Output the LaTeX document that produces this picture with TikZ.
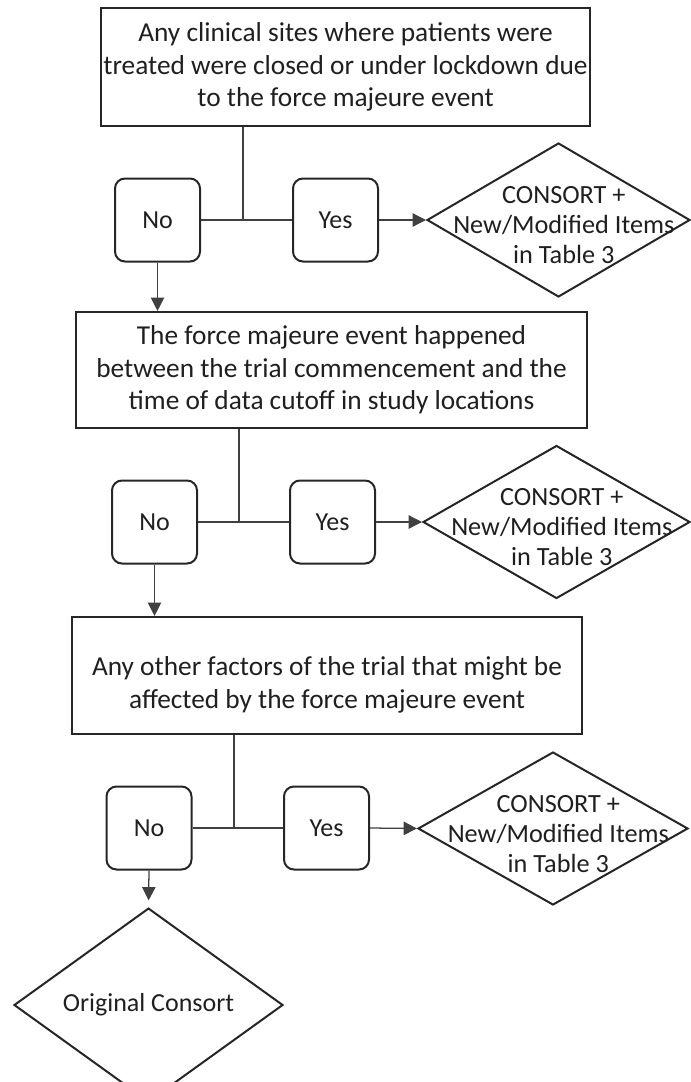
\documentclass[tikz,border=0pt]{standalone}
\usepackage{fontspec}
\setmainfont{Carlito}
\usetikzlibrary{arrows.meta,shapes.geometric}

% diamond text: zero-size box so the diamond keeps its fixed outline
\newcommand\dtxt[1]{\smash{\makebox[0pt]{\hspace*{8pt}\raisebox{-11pt}{%
  \begin{tabular}{@{}c@{}}#1\end{tabular}}}}}

\tikzset{
  ink/.style={draw=black!85, text=black!88},
  question/.style={ink, rectangle, line width=1.6pt, align=center,
    inner sep=0pt, font=\fontsize{20.5pt}{24.4pt}\selectfont},
  answer/.style={ink, rectangle, rounded corners=7.5pt, line width=1.5pt,
    minimum width={85*0.75pt}, minimum height={83*0.75pt}, inner sep=0pt,
    font=\fontsize{19.5pt}{24pt}\selectfont},
  outcome/.style={ink, diamond, line width=1.5pt, inner sep=0pt,
    font=\fontsize{19.7pt}{22.5pt}\selectfont},
  link/.style={draw=black!75, line width=0.95pt},
  flow/.style={link, -{Triangle[length=10pt, width=10pt]}},
}

\begin{document}
\begin{tikzpicture}[x=0.75pt, y=-0.75pt]
\useasboundingbox (0,0) rectangle (691,1082);

% first question
\node[question, minimum width={489*0.75pt}, minimum height={118*0.75pt}]
  (q1) at (345.5,67) {Any clinical sites where patients were\\
  treated were closed or under lockdown due\\ to the force majeure event};
\node[answer] (no1)  at (157.5,220) {No};
\node[answer] (yes1) at (335.5,220) {Yes};
\node[outcome, minimum width={263*0.75pt}, minimum height={154*0.75pt}]
  (r1) at (558.5,220) {\dtxt{CONSORT +\\New/Modified Items\\in Table 3}};
\coordinate (j1) at (243,220);

% second question
\node[question, minimum width={511*0.75pt}, minimum height={116*0.75pt}]
  (q2) at (331.5,370) {The force majeure event happened\\
  between the trial commencement and the\\ time of data cutoff in study locations};
\node[answer] (no2)  at (154.5,522) {No};
\node[answer] (yes2) at (332.5,522) {Yes};
\node[outcome, minimum width={267*0.75pt}, minimum height={153*0.75pt}]
  (r2) at (556.5,522) {\dtxt{CONSORT +\\New/Modified Items\\in Table 3}};
\coordinate (j2) at (239,522);

% third question
\node[question, minimum width={510*0.75pt}, minimum height={117*0.75pt}]
  (q3) at (327,675.5) {\rule{0pt}{28pt}Any other factors of the trial that might be\\
  affected by the force majeure event};
\node[answer] (no3)  at (149,828) {No};
\node[answer] (yes3) at (326.5,828) {Yes};
\node[outcome, minimum width={270*0.75pt}, minimum height={153*0.75pt}]
  (r3) at (553,828.5) {\dtxt{CONSORT +\\New/Modified Items\\in Table 3}};
\coordinate (j3) at (234,828);

% final outcome
\node[outcome, minimum width={269*0.75pt}, minimum height={154*0.75pt},
  font=\fontsize{19.5pt}{24pt}\selectfont]
  (orig) at (148.5,1005) {\raisebox{-2pt}{Original Consort}};

% connectors
\foreach \q/\j/\n/\y/\r in {q1/j1/no1/yes1/r1, q2/j2/no2/yes2/r2, q3/j3/no3/yes3/r3} {
  \draw[link] (\j |- \q.south) -- (\j);
  \draw[link] (\n.east) -- (\y.west);
  \draw[flow] (\y.east) -- (\r.west);
}
\draw[flow] (no1.south) -- (no1.south |- q2.north);
\draw[flow] (no2.south) -- (no2.south |- q3.north);
\draw[flow, shorten >=5pt] (no3.south) -- (orig.north);
\end{tikzpicture}
\end{document}
